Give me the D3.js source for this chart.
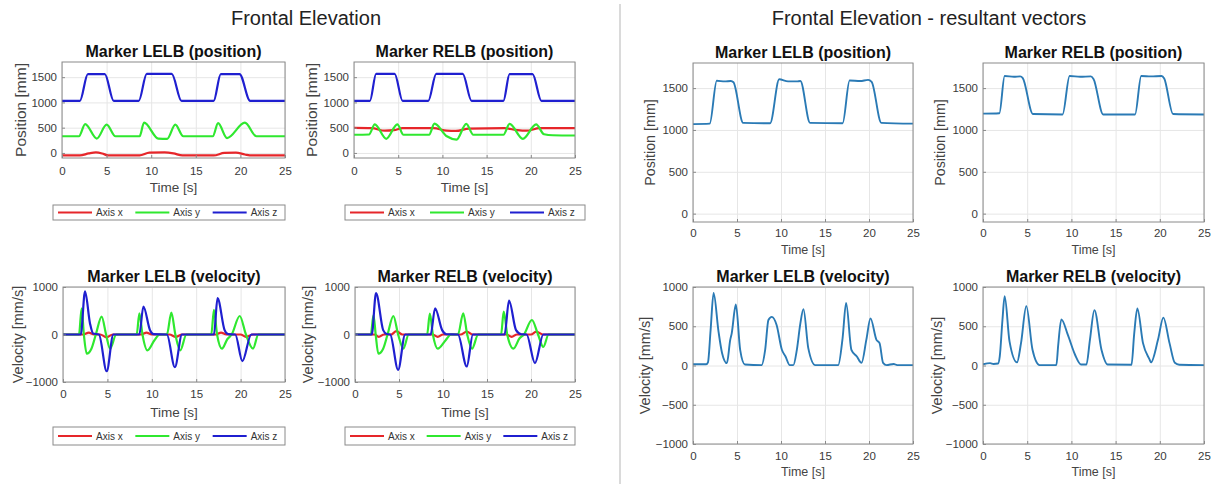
<!DOCTYPE html>
<html>
<head>
<meta charset="utf-8">
<script src="https://cdn.jsdelivr.net/npm/d3@7"></script>
<style>
  body { margin: 0; background: #fff; }
  text { font-family: "Liberation Sans", Arial, Helvetica, sans-serif; }
</style>
</head>
<body>
<svg id="chart" width="1215" height="484"></svg>
<script>
// ---- data: [time s, value] ----
const timeTicks = [0, 5, 10, 15, 20, 25];
const posTicks = [0, 500, 1000, 1500];
const velTicksLeft = [-1000, 0, 1000];
const velTicksRight = [-1000, -500, 0, 500, 1000];
const legendLabels = ["Axis x", "Axis y", "Axis z"];
const axisColors = ["#e6262a", "#2fe82f", "#1f1fd0"];

// left: LELB position
const lelbPosX = [[0,-50],[2,-50],[3,-10],[3.8,10],[4.5,-10],[5.2,-50],[8.7,-50],[9.8,5],[11.5,10],[12.5,-10],[13.5,-50],[17,-50],[18.2,0],[19.5,5],[20.5,-30],[21.3,-50],[25,-50]];
const lelbPosY = [[0,330],[1.9,330],[2.6,570],[3.9,285],[5.0,560],[6.0,330],[8.7,330],[9.2,600],[10.8,285],[11.8,280],[12.7,560],[13.6,330],[16.9,330],[17.5,590],[18.5,295],[20.5,600],[21.8,330],[25,330]];
const lelbPosZ = [[0,1030],[2.0,1030],[2.9,1562],[4.8,1562],[5.8,1030],[8.6,1030],[9.5,1565],[12.3,1565],[13.4,1030],[17.0,1030],[17.8,1562],[19.9,1562],[21.1,1030],[25,1030]];

// left: RELB position
const relbPosX = [[0,495],[2,490],[3.5,440],[4.5,450],[5.5,490],[9,490],[10.5,440],[11.5,435],[13,480],[17,490],[18.5,450],[19.5,440],[21,490],[25,490]];
const relbPosY = [[0,360],[1.7,365],[2.35,565],[3.65,280],[4.9,565],[5.6,360],[8.5,360],[9.1,580],[10.5,330],[11.6,265],[12.7,575],[13.5,360],[16.9,360],[17.6,575],[19.1,280],[20.6,565],[21.5,370],[22.5,350],[25,345]];
const relbPosZ = [[0,1030],[1.8,1030],[2.5,1565],[4.6,1565],[5.5,1030],[8.4,1030],[9.3,1565],[12.3,1565],[13.3,1030],[16.9,1030],[17.6,1560],[20.2,1560],[21.2,1030],[25,1030]];

// left: LELB velocity
const lelbVelX = [[0,0],[2.3,0],[2.9,40],[3.5,0],[4.2,0],[4.9,-60],[5.6,0],[8.8,0],[9.4,40],[10.0,0],[12.0,0],[12.7,-50],[13.4,0],[17.2,0],[17.8,40],[18.4,0],[20.0,0],[20.6,-50],[21.4,0],[25,0]];
const lelbVelY = [[0,0],[1.8,0],[2.1,550],[2.35,0],[2.67,-404],[3.2,-300],[3.7,0],[4.35,376],[4.85,0],[5.3,-298],[6.0,0],[8.3,0],[8.6,447],[8.95,0],[9.5,-333],[10.3,-120],[10.9,0],[11.7,0],[12.2,461],[12.65,0],[13.2,-333],[13.9,0],[16.7,0],[17.0,518],[17.35,0],[17.9,-298],[18.5,-100],[19.0,0],[19.9,390],[20.6,0],[21.4,-298],[22,0],[25,0]];
const lelbVelZ = [[0,0],[2.0,0],[2.48,908],[3.04,234],[3.4,20],[4.05,0],[4.92,-773],[5.67,0],[8.6,0],[9.05,589],[9.8,92],[10.2,7],[11.7,0],[12.6,-688],[13.4,0],[17.0,0],[17.4,766],[18.2,92],[18.6,7],[19.4,0],[20.2,-560],[21.2,0],[25,0]];

// left: RELB velocity
const relbVelX = [[0,0],[2.2,0],[2.7,-50],[3.3,0],[4.1,0],[4.7,70],[5.4,0],[8.8,0],[9.4,-50],[10.0,0],[12.0,0],[12.7,60],[13.4,0],[17.2,0],[17.8,-50],[18.4,0],[20.0,0],[20.6,60],[21.4,0],[25,0]];
const relbVelY = [[0,0],[1.8,0],[2.1,411],[2.35,0],[2.65,-404],[3.2,-300],[3.7,0],[4.36,390],[4.9,0],[5.5,-298],[6.1,0],[8.2,0],[8.5,440],[8.85,0],[9.4,-298],[10.3,-120],[10.9,0],[11.7,0],[12.3,447],[12.75,0],[13.3,-298],[14.0,0],[16.6,0],[16.9,482],[17.3,0],[18.0,-298],[18.7,-80],[19.2,0],[20.1,305],[20.8,0],[21.4,-262],[22,0],[25,0]];
const relbVelZ = [[0,0],[1.9,0],[2.39,872],[3.2,92],[3.6,10],[4.0,0],[4.9,-745],[5.7,0],[8.6,0],[9.1,553],[9.9,92],[10.4,5],[11.7,0],[12.7,-674],[13.4,0],[17.0,0],[17.5,716],[18.3,92],[18.9,5],[19.5,0],[20.45,-603],[21.4,0],[25,0]];

// right: resultant vectors
const lelbPosRes = [[0,1070],[1.9,1075],[2.7,1588],[3.6,1580],[4.3,1585],[4.6,1570],[5.7,1085],[8.76,1080],[9.8,1605],[10.8,1580],[11.8,1580],[12.2,1585],[13.3,1085],[17.0,1080],[17.8,1590],[19.0,1585],[19.9,1598],[20.3,1575],[21.4,1085],[25,1075]];
const relbPosRes = [[0,1195],[1.85,1200],[2.45,1645],[3.5,1635],[4.2,1640],[4.5,1620],[5.65,1190],[9.0,1185],[9.8,1645],[11,1635],[12.2,1640],[12.5,1610],[13.6,1185],[17.2,1185],[17.9,1645],[19,1640],[20.2,1645],[20.5,1615],[21.5,1190],[25,1185]];
const lelbVelRes = [[0,15],[1.5,15],[1.7,40],[2.0,450],[2.34,924],[2.9,432],[3.3,160],[3.85,30],[4.23,327],[4.4,410],[4.87,777],[5.36,200],[5.9,13],[7.8,5],[8.2,200],[8.57,580],[8.95,620],[9.5,517],[10.1,200],[10.5,118],[11.0,5],[11.4,5],[11.8,200],[12.2,537],[12.55,718],[13.1,222],[13.9,5],[16.5,5],[17.0,350],[17.4,798],[18.0,200],[18.6,118],[19.15,34],[19.7,330],[20.17,600],[20.85,327],[21.2,285],[21.6,34],[22,5],[22.8,20],[23.2,5],[25,5]];
const relbVelRes = [[0,15],[0.8,30],[1.2,20],[1.7,25],[1.9,120],[2.2,580],[2.45,882],[3.0,307],[3.85,40],[4.3,285],[4.9,756],[5.6,200],[6.4,5],[8.3,5],[8.5,250],[8.86,588],[9.6,390],[10.4,140],[11.1,12],[11.7,12],[12.1,330],[12.6,706],[13.4,200],[14.1,12],[16.8,10],[17.1,400],[17.46,727],[18.1,285],[18.85,75],[19.0,40],[19.8,330],[20.4,610],[21.1,285],[21.7,34],[22.2,10],[25,5]];

// ---- layout ----
const svg = d3.select('#chart');
const font = '"Liberation Sans", Arial, Helvetica, sans-serif';

// section headings and divider
svg.append('line')
    .attr('x1', 620).attr('x2', 620).attr('y1', 4).attr('y2', 484)
    .attr('stroke', '#b5b5b5').attr('stroke-width', 1);
svg.append('text').attr('x', 306).attr('y', 25).attr('text-anchor', 'middle')
    .attr('font-size', 20).attr('fill', '#222').text('Frontal Elevation');
svg.append('text').attr('x', 929).attr('y', 25).attr('text-anchor', 'middle')
    .attr('font-size', 20).attr('fill', '#222').text('Frontal Elevation - resultant vectors');

const panels = [
    { title: 'Marker LELB (position)', yLabel: 'Position [mm]', left: 62, right: 285, top: 62, bottom: 158,
      yDomain: [-100, 1800], yTicks: posTicks, series: [lelbPosX, lelbPosY, lelbPosZ], colors: axisColors,
      legend: { x0: 53, x1: 285, y0: 205, y1: 220 }, yLabelX: 26, yLabelSize: 15.5, timeY: 192, padX: 9, timeSize: 13.5 },
    { title: 'Marker RELB (position)', yLabel: 'Position [mm]', left: 354, right: 575, top: 62, bottom: 158,
      yDomain: [-100, 1800], yTicks: posTicks, series: [relbPosX, relbPosY, relbPosZ], colors: axisColors,
      legend: { x0: 345, x1: 585, y0: 205, y1: 220 }, yLabelX: 317, yLabelSize: 15.5, timeY: 192, padX: 9, timeSize: 13.5 },
    { title: 'Marker LELB (velocity)', yLabel: 'Velocity [mm/s]', left: 63, right: 285, top: 287, bottom: 382,
      yDomain: [-1000, 1000], yTicks: velTicksLeft, series: [lelbVelX, lelbVelY, lelbVelZ], colors: axisColors,
      legend: { x0: 53, x1: 285, y0: 427, y1: 445 }, yLabelX: 23, yLabelSize: 14.5, timeY: 417, padX: 8, timeSize: 13.5 },
    { title: 'Marker RELB (velocity)', yLabel: 'Velocity [mm/s]', left: 355, right: 575, top: 287, bottom: 382,
      yDomain: [-1000, 1000], yTicks: velTicksLeft, series: [relbVelX, relbVelY, relbVelZ], colors: axisColors,
      legend: { x0: 345, x1: 575, y0: 427, y1: 445 }, yLabelX: 313, yLabelSize: 14.5, timeY: 417, padX: 8, timeSize: 13.5 },
    { title: 'Marker LELB (position)', yLabel: 'Position [mm]', left: 693, right: 913, top: 63, bottom: 222,
      yDomain: [-100, 1800], yTicks: posTicks, series: [lelbPosRes], colors: ['#2a7ab5'],
      yLabelX: 655, yLabelSize: 14.3, timeY: 254, padX: 7, timeSize: 12.5 },
    { title: 'Marker RELB (position)', yLabel: 'Position [mm]', left: 983, right: 1204, top: 63, bottom: 222,
      yDomain: [-100, 1800], yTicks: posTicks, series: [relbPosRes], colors: ['#2a7ab5'],
      yLabelX: 945, yLabelSize: 14.3, timeY: 254, padX: 7, timeSize: 12.5 },
    { title: 'Marker LELB (velocity)', yLabel: 'Velocity [mm/s]', left: 693, right: 913, top: 287, bottom: 444,
      yDomain: [-1000, 1000], yTicks: velTicksRight, series: [lelbVelRes], colors: ['#2a7ab5'],
      yLabelX: 650, yLabelSize: 14.5, timeY: 476, padX: 8, timeSize: 12.5 },
    { title: 'Marker RELB (velocity)', yLabel: 'Velocity [mm/s]', left: 983, right: 1204, top: 287, bottom: 444,
      yDomain: [-1000, 1000], yTicks: velTicksRight, series: [relbVelRes], colors: ['#2a7ab5'],
      yLabelX: 942, yLabelSize: 14.5, timeY: 476, padX: 8, timeSize: 12.5 }
];

function drawPanel(p, i) {
    const x = d3.scaleLinear().domain([0, 25]).range([p.left, p.right]);
    const y = d3.scaleLinear().domain(p.yDomain).range([p.bottom, p.top]);
    const w = p.right - p.left;
    const h = p.bottom - p.top;
    const g = svg.append('g');

    // grid
    g.append('g')
        .attr('transform', `translate(0, ${ p.bottom })`)
        .call(d3.axisBottom(x).tickValues(timeTicks).tickSize(-h).tickFormat(''))
        .call(a => a.select('.domain').remove())
        .selectAll('line').attr('stroke', '#e6e6e6');
    g.append('g')
        .attr('transform', `translate(${ p.left }, 0)`)
        .call(d3.axisLeft(y).tickValues(p.yTicks).tickSize(-w).tickFormat(''))
        .call(a => a.select('.domain').remove())
        .selectAll('line').attr('stroke', '#e6e6e6');

    // lines
    const clipId = 'clip' + i;
    g.append('clipPath').attr('id', clipId)
        .append('rect').attr('x', p.left).attr('y', p.top).attr('width', w).attr('height', h);

    const line = d3.line()
        .x(d => x(d[0]))
        .y(d => y(d[1]))
        .curve(d3.curveMonotoneX);

    g.append('g').attr('clip-path', `url(#${ clipId })`)
        .selectAll('path')
        .data(p.series)
        .join('path')
        .attr('d', line)
        .attr('fill', 'none')
        .attr('stroke', (d, k) => p.colors[k])
        .attr('stroke-width', p.colors.length > 1 ? 2.2 : 1.9)
        .attr('stroke-linejoin', 'round');

    // frame
    g.append('rect')
        .attr('x', p.left).attr('y', p.top).attr('width', w).attr('height', h)
        .attr('fill', 'none').attr('stroke', '#8a8a8a').attr('stroke-width', 1);

    // axes
    const xAxisGroup = g.append('g')
        .attr('transform', `translate(0, ${ p.bottom })`)
        .call(d3.axisBottom(x).tickValues(timeTicks).tickFormat(d3.format('d'))
            .tickSizeInner(-3).tickSizeOuter(0).tickPadding(p.padX));
    const yAxisGroup = g.append('g')
        .attr('transform', `translate(${ p.left }, 0)`)
        .call(d3.axisLeft(y).tickValues(p.yTicks).tickFormat(d3.format('d'))
            .tickSizeInner(-3).tickSizeOuter(0).tickPadding(5));

    [xAxisGroup, yAxisGroup].forEach(a => {
        a.select('.domain').remove();
        a.selectAll('line').attr('stroke', '#8a8a8a');
        a.selectAll('text')
            .attr('fill', '#3a3a3a')
            .attr('font-size', 11.5)
            .attr('font-family', font);
    });

    // labels
    g.append('text')
        .attr('x', (p.left + p.right) / 2).attr('y', p.top - 5)
        .attr('text-anchor', 'middle')
        .attr('font-size', 16).attr('font-weight', 'bold').attr('fill', '#111')
        .text(p.title);
    g.append('text')
        .attr('x', (p.left + p.right) / 2).attr('y', p.timeY)
        .attr('text-anchor', 'middle')
        .attr('font-size', p.timeSize).attr('fill', '#444')
        .text('Time [s]');
    g.append('text')
        .attr('transform', `translate(${ p.yLabelX }, ${ (p.top + p.bottom) / 2 }) rotate(-90)`)
        .attr('text-anchor', 'middle')
        .attr('font-size', p.yLabelSize).attr('fill', '#444')
        .text(p.yLabel);

    // legend
    if (p.legend) {
        const L = p.legend;
        const lg = g.append('g');
        lg.append('rect')
            .attr('x', L.x0).attr('y', L.y0).attr('width', L.x1 - L.x0).attr('height', L.y1 - L.y0)
            .attr('fill', '#fff').attr('stroke', '#8a8a8a').attr('stroke-width', 1);
        const step = (L.x1 - L.x0) / legendLabels.length;
        const cy = (L.y0 + L.y1) / 2;
        const items = lg.selectAll('g.item')
            .data(legendLabels)
            .join('g')
            .attr('class', 'item')
            .attr('transform', (d, k) => `translate(${ L.x0 + k * step }, ${ cy })`);
        items.append('line')
            .attr('x1', 5).attr('x2', 39)
            .attr('stroke', (d, k) => p.colors[k]).attr('stroke-width', 2.2);
        items.append('text')
            .attr('x', 43).attr('y', 3.5)
            .attr('font-size', 10).attr('fill', '#333')
            .text(d => d);
    }
}

panels.forEach(drawPanel);
</script>
</body>
</html>
